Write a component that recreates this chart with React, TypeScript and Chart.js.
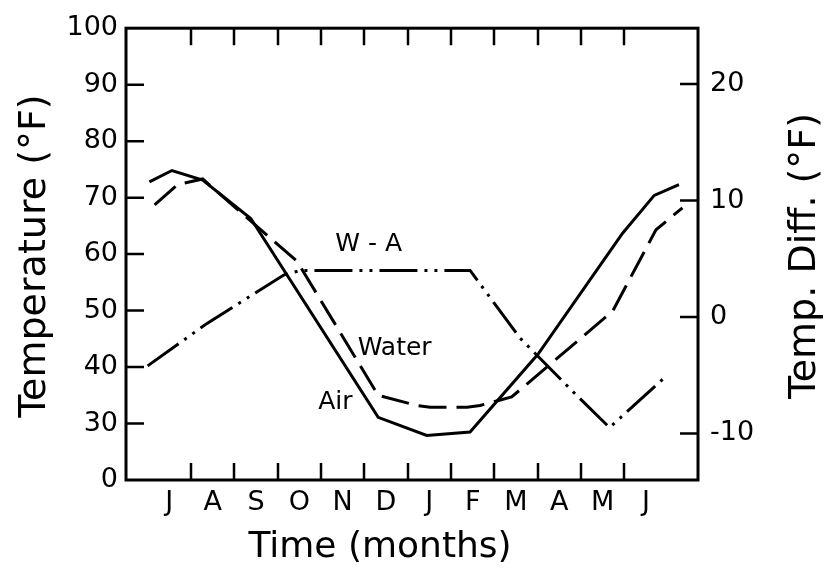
import React, { useEffect, useRef } from "react";
import { Chart, registerables } from "chart.js";

Chart.register(...registerables);

// Month categories (July .. June), placed at positions 1..12 on a linear month axis
const months = ["J", "A", "S", "O", "N", "D", "J", "F", "M", "A", "M", "J"];
const monthPositions = [1, 2, 3, 4, 5, 6, 7, 8, 9, 10, 11, 12];
const monthBoundaries = [1.5, 2.5, 3.5, 4.5, 5.5, 6.5, 7.5, 8.5, 9.5, 10.5, 11.5];

// Left axis (broken: the lowest tick 20 is labelled "0")
const leftTicks = [20, 30, 40, 50, 60, 70, 80, 90, 100];
const rightTicks = [-10, 0, 10, 20];

// Air temperature (°F)
const airX = [0.54, 1.06, 1.77, 2.88, 5.82, 6.94, 7.94, 9.51, 11.46, 12.19, 12.76];
const airY = [72.8, 74.8, 73.1, 66.3, 31.1, 27.9, 28.5, 42.3, 63.7, 70.4, 72.3];

// Water temperature (°F)
const waterX = [0.66, 1.19, 1.77, 3.95, 5.82, 6.71, 7.02, 7.87, 8.17, 8.9, 11.23, 12.23, 12.84];
const waterY = [68.7, 72.3, 73.3, 58.7, 35.0, 33.2, 32.9, 32.9, 33.2, 34.7, 49.9, 64.3, 68.2];

// Water minus air temperature difference (°F), right axis
const diffX = [0.5, 1.87, 3.64, 4.03, 7.94, 9.09, 10.31, 11.16, 12.46];
const diffY = [-4.2, -0.55, 3.6, 4.0, 4.0, -1.8, -6.4, -9.5, -5.1];

// Series annotations
const seriesNames = ["W - A", "Water", "Air"];
const seriesNameX = [5.6, 6.2, 4.83];
const seriesNameY = [6.2, 43.2, 33.7];
const seriesNameAxis = ["y2", "y", "y"];

const FONT = '"DejaVu Sans", sans-serif';

const framePlugin = {
  id: "framePlugin",
  afterDraw(chart: any) {
    const { ctx, chartArea, scales } = chart;
    const { left, top, right, bottom } = chartArea;
    ctx.save();
    ctx.strokeStyle = "#000";
    ctx.lineWidth = 3;
    ctx.strokeRect(left, top, right - left, bottom - top);

    ctx.lineWidth = 2.5;
    ctx.beginPath();
    monthBoundaries.forEach((v) => {
      const px = Math.round(scales.x.getPixelForValue(v));
      ctx.moveTo(px, bottom);
      ctx.lineTo(px, bottom - 17);
      ctx.moveTo(px, top);
      ctx.lineTo(px, top + 17);
    });
    leftTicks
      .filter((v) => v > 20 && v < 100)
      .forEach((v) => {
        const py = scales.y.getPixelForValue(v);
        ctx.moveTo(left, py);
        ctx.lineTo(left + 18, py);
      });
    rightTicks.forEach((v) => {
      const py = scales.y2.getPixelForValue(v);
      ctx.moveTo(right, py);
      ctx.lineTo(right - 18, py);
    });
    ctx.stroke();

    ctx.fillStyle = "#000";
    ctx.textBaseline = "alphabetic";
    ctx.textAlign = "center";

    // Axis titles
    ctx.font = `38px ${FONT}`;
    ctx.save();
    ctx.translate(45, 256);
    ctx.rotate(-Math.PI / 2);
    ctx.fillText("Temperature (°F)", 0, 0);
    ctx.restore();

    ctx.save();
    ctx.translate(815, 256);
    ctx.rotate(-Math.PI / 2);
    ctx.fillText("Temp. Diff. (°F)", 0, 0);
    ctx.restore();

    ctx.font = `36px ${FONT}`;
    ctx.fillText("Time (months)", 380, 557);

    // Series labels
    ctx.font = `25px ${FONT}`;
    ctx.textBaseline = "middle";
    seriesNames.forEach((name, i) => {
      const px = scales.x.getPixelForValue(seriesNameX[i]);
      const py = scales[seriesNameAxis[i]].getPixelForValue(seriesNameY[i]);
      ctx.fillText(name, px, py);
    });
    ctx.restore();
  },
};

export default function App() {
  const canvasRef = useRef<HTMLCanvasElement | null>(null);

  useEffect(() => {
    const canvas = canvasRef.current;
    if (!canvas) return;
    const tickFont = { family: FONT, size: 27 };
    const chart = new Chart(canvas, {
      type: "line",
      data: {
        datasets: [
          {
            label: "Air",
            data: airX.map((x, i) => ({ x, y: airY[i] })),
            yAxisID: "y",
            borderColor: "#000",
            borderWidth: 3,
            pointRadius: 0,
            tension: 0,
            fill: false,
          },
          {
            label: "Water",
            data: waterX.map((x, i) => ({ x, y: waterY[i] })),
            yAxisID: "y",
            borderColor: "#000",
            borderWidth: 3,
            borderDash: [28, 10],
            pointRadius: 0,
            tension: 0,
            fill: false,
          },
          {
            label: "W-A",
            data: diffX.map((x, i) => ({ x, y: diffY[i] })),
            yAxisID: "y2",
            borderColor: "#000",
            borderWidth: 3,
            borderDash: [38, 7, 3, 7, 3, 7],
            pointRadius: 0,
            tension: 0,
            fill: false,
          },
        ],
      },
      options: {
        animation: false,
        responsive: false,
        maintainAspectRatio: false,
        layout: { padding: { top: 25, left: 0, right: 0, bottom: 0 } },
        plugins: { legend: { display: false }, tooltip: { enabled: false } },
        scales: {
          x: {
            type: "linear",
            position: "bottom",
            min: 0,
            max: 13.2,
            afterBuildTicks: (s: any) => {
              s.ticks = monthPositions.map((v) => ({ value: v }));
            },
            afterFit: (s: any) => {
              s.height = 94;
            },
            ticks: {
              callback: (_v: any, i: number) => months[i],
              font: tickFont,
              color: "#000",
              padding: 7,
              maxRotation: 0,
              autoSkip: false,
            },
            grid: { display: false, drawTicks: false },
            border: { display: false },
          },
          y: {
            type: "linear",
            position: "left",
            min: 20,
            max: 100,
            afterBuildTicks: (s: any) => {
              s.ticks = leftTicks.map((v) => ({ value: v }));
            },
            afterFit: (s: any) => {
              s.width = 126;
            },
            ticks: {
              callback: (v: any) => (v === 20 ? "0" : String(v)),
              font: tickFont,
              color: "#000",
              padding: 8,
            },
            grid: { display: false, drawTicks: false },
            border: { display: false },
          },
          y2: {
            type: "linear",
            position: "right",
            min: -14.0,
            max: 24.8,
            afterBuildTicks: (s: any) => {
              s.ticks = rightTicks.map((v) => ({ value: v }));
            },
            afterFit: (s: any) => {
              s.width = 129;
            },
            ticks: {
              callback: (v: any) => String(v),
              font: tickFont,
              color: "#000",
              padding: 12,
            },
            grid: { display: false, drawTicks: false },
            border: { display: false },
          },
        },
      },
      plugins: [framePlugin],
    } as any);
    return () => chart.destroy();
  }, []);

  return (
    <div style={{ position: "absolute", left: 0, top: 0, width: 827, height: 574, background: "#fff" }}>
      <canvas ref={canvasRef} width={827} height={574} />
    </div>
  );
}
